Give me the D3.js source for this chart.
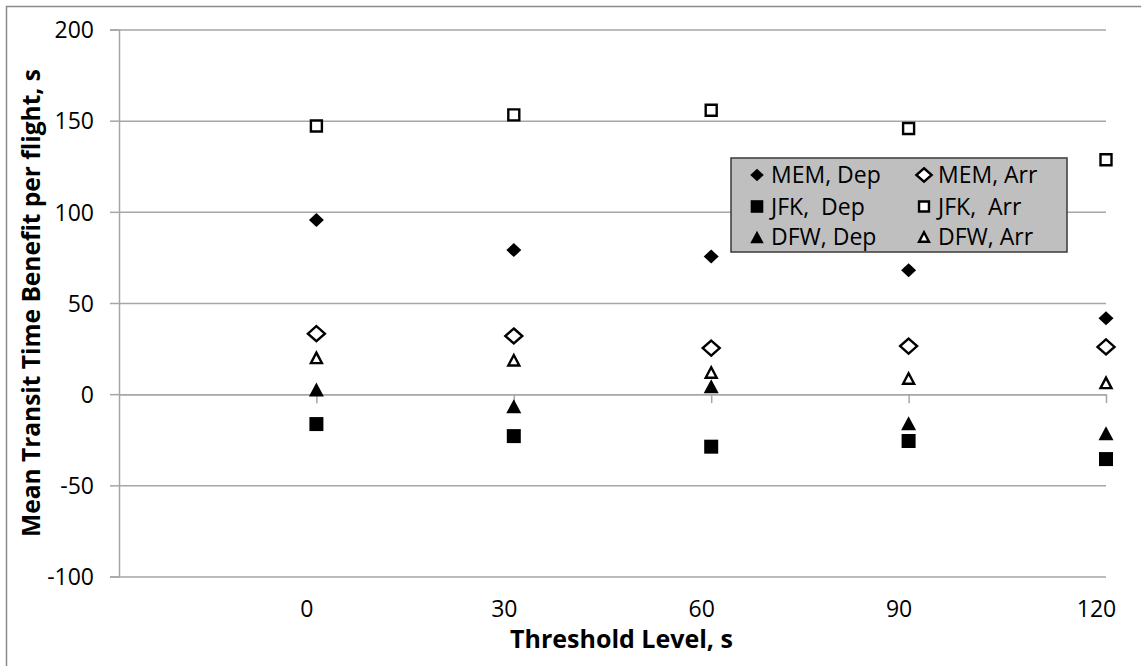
<!DOCTYPE html>
<html>
<head>
<meta charset="utf-8">
<script src="https://cdn.jsdelivr.net/npm/d3@7/dist/d3.min.js"></script>
<style>
  html, body { margin: 0; padding: 0; background: #ffffff; }
  svg { display: block; }
  text { font-family: "Open Sans", "Noto Sans", sans-serif; fill: #000; }
</style>
</head>
<body>
<svg id="chart" width="1141" height="666"></svg>
<script>
// ---- Data ----
const thresholds = [0, 30, 60, 90, 120];
const xTickLabels = ["0", "30", "60", "90", "120"];
const yTickValues = [-100, -50, 0, 50, 100, 150, 200];
const yTickLabels = ["-100", "-50", "0", "50", "100", "150", "200"];

const memDep = [95.5, 79, 75.5, 68, 41.7];
const memArr = [33.2, 31.9, 25.3, 26.4, 25.9];
const jfkDep = [-16.4, -23, -28.8, -25.7, -35.6];
const jfkArr = [147.1, 153.2, 155.7, 145.7, 128.6];
const dfwDep = [2.6, -6.6, 4.4, -16, -21.5];
const dfwArr = [19.9, 18.6, 11.9, 8.6, 6.2];

const seriesNames = ["MEM, Dep", "MEM, Arr", "JFK,  Dep", "JFK,  Arr", "DFW, Dep", "DFW, Arr"];
const seriesValues = [memDep, memArr, jfkDep, jfkArr, dfwDep, dfwArr];
const seriesShapes = ["diamond", "diamond", "square", "square", "triangle", "triangle"];
const seriesFilled = [true, false, true, false, true, false];

// ---- Layout ----
const svg = d3.select("#chart");
const plotLeft = 119, plotRight = 1106, plotTop = 29.5, plotBottom = 576.5;

const x = d3.scaleLinear().domain([-30, 120]).range([plotLeft, plotRight]);
const y = d3.scaleLinear().domain([-100, 200]).range([plotBottom, plotTop]);

// outer frame
svg.append("rect").attr("x", 0).attr("y", 0).attr("width", 1141).attr("height", 666).attr("fill", "#fff");
svg.append("rect").attr("x", 6.5).attr("y", 6.5).attr("width", 1150).attr("height", 680)
  .attr("fill", "none").attr("stroke", "#8a8a8a").attr("stroke-width", 1.5);

const gridColor = "#a6a6a6";

// horizontal gridlines
const grid = svg.append("g").attr("transform", `translate(${plotLeft},0)`)
  .call(d3.axisLeft(y).tickValues(yTickValues).tickSize(-(plotRight - plotLeft)).tickFormat(""));
grid.select(".domain").remove();
grid.selectAll(".tick line").attr("stroke", gridColor).attr("stroke-width", 1.5);

// y axis with ticks + labels
const yAxis = svg.append("g").attr("transform", `translate(${plotLeft},0)`)
  .call(d3.axisLeft(y).tickValues(yTickValues).tickSize(9).tickPadding(16)
    .tickFormat((d, i) => yTickLabels[i]));
yAxis.select(".domain").attr("stroke", gridColor).attr("stroke-width", 1.5);
yAxis.selectAll(".tick line").attr("stroke", gridColor).attr("stroke-width", 1.5);
yAxis.selectAll(".tick text").attr("font-size", 23).attr("font-family", "Open Sans").attr("dy", "0.36em").attr("fill", "#000");

// x axis line at y=0 with tick marks
const xAxis = svg.append("g").attr("transform", `translate(0,${y(0)})`)
  .call(d3.axisBottom(x).tickValues(thresholds).tickSize(9).tickSizeOuter(0).tickFormat(""));
xAxis.select(".domain").attr("stroke", gridColor).attr("stroke-width", 1.5);
xAxis.selectAll(".tick line").attr("stroke", gridColor).attr("stroke-width", 1.5);

// x tick labels at the bottom
const xLab = svg.append("g").attr("transform", `translate(-10,${plotBottom})`)
  .call(d3.axisBottom(x).tickValues(thresholds).tickSize(0).tickFormat((d, i) => xTickLabels[i]));
xLab.select(".domain").remove();
xLab.selectAll(".tick text").attr("font-size", 23).attr("font-family", "Open Sans").attr("y", 32).attr("dy", "0.36em").attr("fill", "#000");

// axis titles
svg.append("text").attr("x", (plotLeft + plotRight) / 2 + 9).attr("y", 648)
  .attr("text-anchor", "middle").attr("font-weight", "bold").attr("font-size", 25)
  .text("Threshold Level, s");
svg.append("text").attr("transform", `translate(40,${(plotTop + plotBottom) / 2}) rotate(-90)`)
  .attr("text-anchor", "middle").attr("font-weight", "bold").attr("font-size", 24.5)
  .text("Mean Transit Time Benefit per flight, s");

// ---- marker shapes ----
function markerPath(shape, filled, scale) {
  const s = scale || 1;
  if (shape === "diamond") {
    const w = (filled ? 15 : 17) * s / 2, h = (filled ? 14 : 15) * s / 2;
    return `M0,${-h}L${w},0L0,${h}L${-w},0Z`;
  }
  if (shape === "square") {
    const a = (filled ? 14 : 11) * s / 2;
    return `M${-a},${-a}L${a},${-a}L${a},${a}L${-a},${a}Z`;
  }
  // triangle
  const w = (filled ? 15 : 11) * s / 2, h = (filled ? 14 : 10.5) * s / 2;
  return `M0,${-h}L${w},${h}L${-w},${h}Z`;
}
function styleMarker(sel, filled) {
  sel.attr("fill", filled ? "#000" : "#fff")
     .attr("stroke", filled ? "none" : "#000")
     .attr("stroke-width", filled ? 0 : 2.4)
     .attr("stroke-linejoin", "miter");
}

// ---- points ----
seriesValues.forEach((vals, si) => {
  const g = svg.append("g").attr("class", "series");
  g.selectAll("path").data(vals).join("path")
    .attr("transform", (d, i) => `translate(${x(thresholds[i])},${y(d)})`)
    .attr("d", markerPath(seriesShapes[si], seriesFilled[si]))
    .call(sel => styleMarker(sel, seriesFilled[si]));
});

// ---- legend ----
const legend = svg.append("g").attr("transform", "translate(731,158)");
legend.append("rect").attr("x", 0).attr("y", 0).attr("width", 336).attr("height", 94)
  .attr("fill", "#bfbfbf").attr("stroke", "#3a3a3a").attr("stroke-width", 1.5);
const colX = [26, 193], rowY = [17, 48.5, 79];
seriesNames.forEach((name, i) => {
  const c = i % 2, r = Math.floor(i / 2);
  const item = legend.append("g").attr("transform", `translate(${colX[c]},${rowY[r]})`);
  item.append("path").attr("d", markerPath(seriesShapes[i], seriesFilled[i], 0.9))
    .call(sel => styleMarker(sel, seriesFilled[i]));
  item.append("text").attr("x", 14).attr("y", 0).attr("dy", "0.36em")
    .attr("font-size", 23).style("white-space", "pre").text(name);
});
</script>
</body>
</html>
